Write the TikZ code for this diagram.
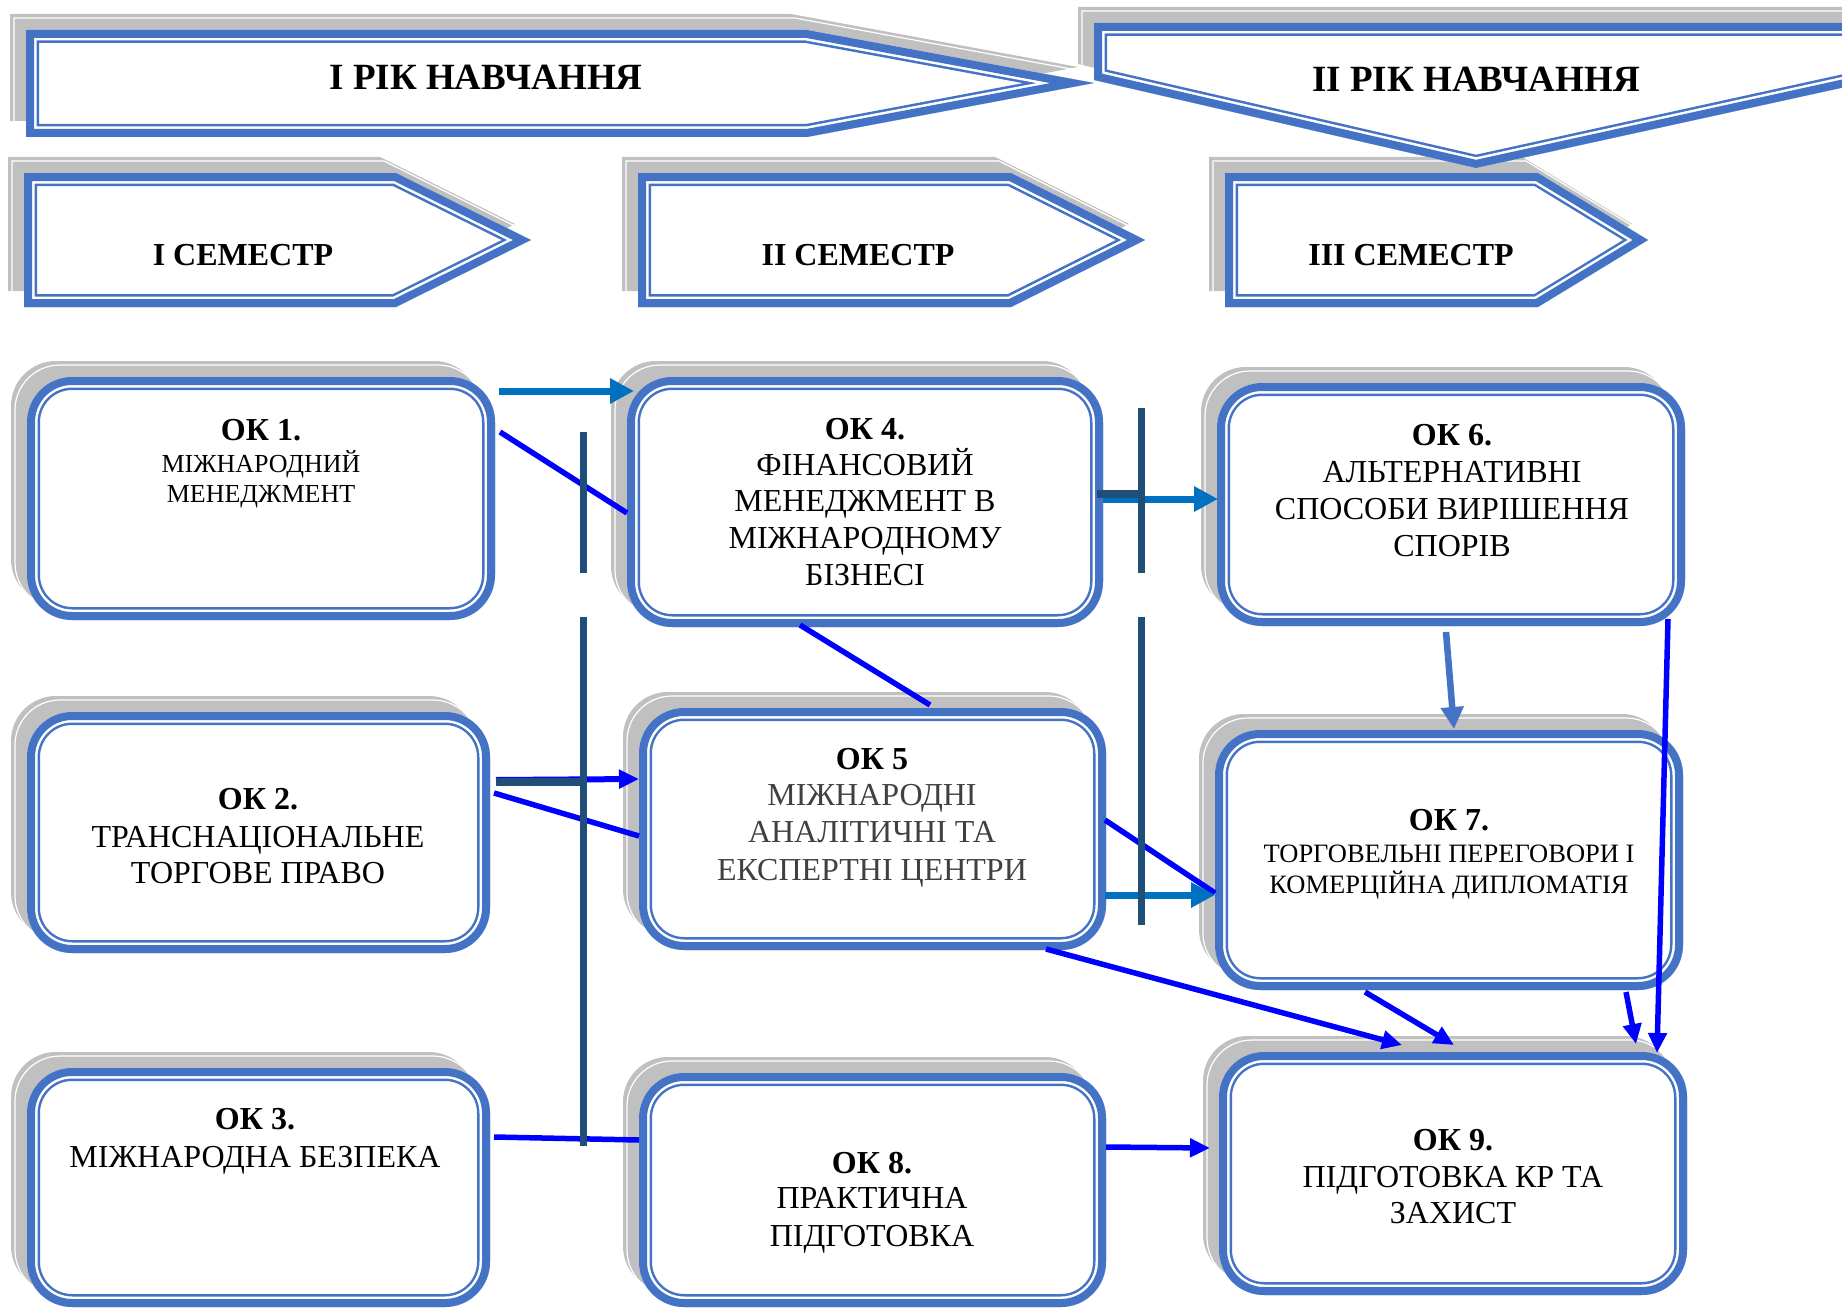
\documentclass[tikz,border=0pt]{standalone}
\usepackage{fontspec}
\setmainfont{Liberation Serif}
\usetikzlibrary{arrows.meta,calc,shadows}
\definecolor{bdr}{HTML}{4472C4}
\definecolor{shgray}{HTML}{C0C0C0}
\definecolor{darkbar}{HTML}{1F4E79}
\definecolor{medblue}{HTML}{0070C0}
\definecolor{brblue}{HTML}{0000FF}
\definecolor{txtgray}{HTML}{404040}

\newcommand\hdfont{\fontsize{32}{37}\selectfont\bfseries}
\newcommand\subA{\fontsize{32}{37}\selectfont}
\newcommand\subB{\fontsize{26.5}{31}\selectfont}
\newcommand\subC{\fontsize{26}{30}\selectfont}
\newcommand\semfont{\fontsize{32}{36}\selectfont\bfseries}
\newcommand\yrfont{\fontsize{37}{42}\selectfont\bfseries}

% banner polygon with shadow and double border
\newcommand\bannershape[1]{%
  \fill[shgray, shift={(-16,-16)}] #1;
  \draw[white, line width=1.2pt, shift={(-12,-12)}] #1;
  \begin{scope}
    \clip #1;
    \fill[white] #1;
    \draw[bdr, line width=26pt, line join=miter] #1;
    \draw[white, line width=21pt, line join=miter] #1;
    \draw[bdr, line width=16pt, line join=miter] #1;
  \end{scope}}

% text of a box: name, x, heading baseline, heading, first sub baseline, skip, font, lines
\newcommand\oktext[8]{%
  \node[txt, font=\hdfont] (#1-h) at (#2,#3) {#4};
  \foreach \ln [count=\i] in {#8} {
    \node[txt, font={#7}] (#1-\i) at ({#2},{#5+(\i-1)*#6}) {\ln};
  }}

\tikzset{
  txt/.style={anchor=base, inner sep=0pt, outer sep=0pt},
  okbox/.style={rectangle, rounded corners=45pt, inner sep=0pt, outer sep=0pt,
    anchor=north west, fill=white,
    general shadow={fill=shgray, shadow xshift=-16pt, shadow yshift=16pt},
    general shadow={draw=white, line width=1.2pt, shadow xshift=-12pt, shadow yshift=12pt},
    path picture={
      \draw[bdr, line width=26pt, rounded corners=45pt]
        (path picture bounding box.south west) rectangle (path picture bounding box.north east);
      \draw[white, line width=21pt, rounded corners=45pt]
        (path picture bounding box.south west) rectangle (path picture bounding box.north east);
      \draw[bdr, line width=16pt, rounded corners=45pt]
        (path picture bounding box.south west) rectangle (path picture bounding box.north east);
    }},
  brline/.style={draw=brblue, line width=5.5pt},
  brarrow/.style={brline, -{Triangle[length=20pt,width=18pt]}},
  medarrow/.style={draw=medblue, line width=7pt, -{Triangle[length=24pt,width=24pt]}},
  bdrarrow/.style={draw=bdr, line width=6.5pt, -{Triangle[length=22pt,width=22pt]}},
  barline/.style={draw=darkbar, line width=7pt},
}

\begin{document}
\begin{tikzpicture}[x=1pt, y=-1pt]
\path[use as bounding box, fill=white] (0,0) rectangle (1842,1311);

% ---------- semester banners ----------
\bannershape{(24,173) -- (396,173) -- (531,240) -- (396,307) -- (24,307) -- cycle}
\bannershape{(638,173) -- (1011,173) -- (1145,240) -- (1011,307) -- (638,307) -- cycle}
\bannershape{(1225,173) -- (1538,173) -- (1648,240) -- (1538,307) -- (1225,307) -- cycle}
\node[txt, font=\semfont] (sem1) at (243,265) {I СЕМЕСТР};
\node[txt, font=\semfont] (sem2) at (858,265) {II СЕМЕСТР};
\node[txt, font=\semfont] (sem3) at (1411,265) {III СЕМЕСТР};

% ---------- year banners ----------
\bannershape{(1094,23) -- (1900,23) -- (1900,75) -- (1476,168) -- (1094,80) -- cycle}
\bannershape{(26,30) -- (807,30) -- (1094,83) -- (807,137) -- (26,137) -- cycle}
\node[txt, font=\yrfont] (yr1) at (486,90) {I РІК НАВЧАННЯ};
\node[txt, font=\yrfont] (yr2) at (1476,92) {II РІК НАВЧАННЯ};

% ---------- boxes ----------
\node[okbox, minimum width=468pt, minimum height=243pt] (ok1) at (27,377) {};
\node[okbox, minimum width=476pt, minimum height=250pt] (ok4) at (627,377) {};
\node[okbox, minimum width=468pt, minimum height=243pt] (ok6) at (1217,383) {};
\node[okbox, minimum width=463pt, minimum height=241pt] (ok2) at (27,712) {};
\node[okbox, minimum width=467pt, minimum height=242pt] (ok5) at (639,708) {};
\node[okbox, minimum width=468pt, minimum height=260pt] (ok7) at (1215,730) {};
\node[okbox, minimum width=463pt, minimum height=239pt] (ok3) at (27,1068) {};
\node[okbox, minimum width=467pt, minimum height=234pt] (ok8) at (639,1073) {};
\node[okbox, minimum width=468pt, minimum height=243pt] (ok9) at (1219,1052) {};

% ---------- box texts ----------
\oktext{t1}{261}{440}{ОК 1.}{472}{30}{\subC}{МІЖНАРОДНИЙ,МЕНЕДЖМЕНТ}
\oktext{t4}{865}{439}{ОК 4.}{475}{36.7}{\subA}{ФІНАНСОВИЙ,МЕНЕДЖМЕНТ В,МІЖНАРОДНОМУ,БІЗНЕСІ}
\oktext{t6}{1452}{445}{ОК 6.}{482}{37}{\subA}{АЛЬТЕРНАТИВНІ,СПОСОБИ ВИРІШЕННЯ,СПОРІВ}
\oktext{t2}{258}{809}{ОК 2.}{847}{36.5}{\subA}{ТРАНСНАЦІОНАЛЬНЕ,ТОРГОВЕ ПРАВО}
\oktext{t5}{872}{769}{ОК 5}{805}{37.5}{\subA\color{txtgray}}{МІЖНАРОДНІ,АНАЛІТИЧНІ ТА,ЕКСПЕРТНІ ЦЕНТРИ}
\oktext{t7}{1449}{830}{ОК 7.}{862}{31}{\subB}{ТОРГОВЕЛЬНІ ПЕРЕГОВОРИ І,КОМЕРЦІЙНА ДИПЛОМАТІЯ}
\oktext{t3}{255}{1129}{ОК 3.}{1167}{37}{\subA}{МІЖНАРОДНА БЕЗПЕКА}
\oktext{t8}{872}{1173}{ОК 8.}{1208}{38}{\subA}{ПРАКТИЧНА,ПІДГОТОВКА}
\oktext{t9}{1453}{1150}{ОК 9.}{1187}{36.5}{\subA}{ПІДГОТОВКА КР ТА,ЗАХИСТ}

% ---------- separator bars ----------
\coordinate (barLa) at (583,432);
\coordinate (barLb) at (583,573);
\coordinate (barLc) at (583,617);
\coordinate (barLd) at (583,1146);
\coordinate (barRa) at (1141,408);
\coordinate (barRb) at (1141,573);
\coordinate (barRc) at (1141,617);
\coordinate (barRd) at (1141,925);

% ---------- connectors ----------
\draw[medarrow] ($(ok1.north east)+(4,14)$) -- ($(ok4.north west)+(7,14)$);
\draw[brline] ($(ok1.north east)+(5,55)$) -- ($(ok4.north west)+(0,136)$);
\draw[brline] ($(ok4.south west)+(173,-2)$) -- ($(ok5.north west)+(291,-3)$);
\draw[brarrow, line width=6pt] ($(ok2.north east)+(6,68)$) -- ($(ok5.north west)+(0,71)$);
\draw[brline] ($(ok2.north east)+(4,81)$) -- ($(ok5.north west)+(0,128)$);
\draw[brline] ($(ok3.north east)+(4,69)$) -- ($(ok8.north west)+(0,67)$);
\draw[medarrow] ($(ok4.north east)+(0,122)$) -- ($(ok6.north west)+(1,116)$);
\draw[brline] ($(ok5.north east)+(-1,112)$) -- ($(ok7.north west)+(0,163)$);
\draw[medarrow] ($(ok5.north east)+(-1,187)$) -- ($(ok7.north west)+(0,165)$);
\draw[brarrow] ($(ok5.south east)+(-60,-1)$) -- ($(ok9.north west)+(183,-7)$);
\draw[brarrow] ($(ok7.south west)+(150,2)$) -- ($(ok9.north west)+(235,-7)$);
\draw[brarrow] ($(ok7.south east)+(-57,2)$) -- ($(ok9.north east)+(-51,-8)$);
\draw[brarrow] ($(ok6.south east)+(-17,-7)$) -- ($(ok9.north east)+(-30,1)$);
\draw[bdrarrow] ($(ok6.south)+(-5,6)$) -- ($(ok7.north)+(5,-1)$);
\draw[brarrow] ($(ok8.north east)+(0,74)$) -- ($(ok9.north west)+(-9,96)$);

% bars on top
\draw[barline] (barLa) -- (barLb);
\draw[barline] (barLc) -- (barLd);
\draw[barline] (barRa) -- (barRb);
\draw[barline] (barRc) -- (barRd);
\coordinate (e1) at ($(ok2.north east)+(6,70)$);
\draw[barline, line width=8pt] (e1) -- (e1 -| barLc);
\coordinate (h1) at ($(ok4.north east)+(-6,117)$);
\draw[barline, line width=8pt] (h1) -- (h1 -| barRa);
\end{tikzpicture}
\end{document}
